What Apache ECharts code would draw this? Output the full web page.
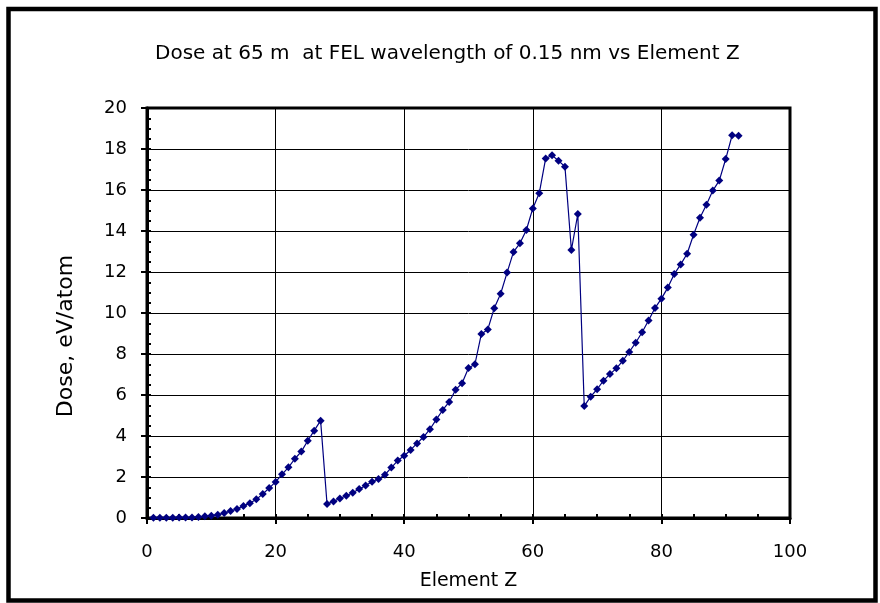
<!DOCTYPE html>
<html>
<head>
<meta charset="utf-8">
<script src="https://cdn.jsdelivr.net/npm/echarts@6/dist/echarts.min.js"></script>
<style>
html,body{margin:0;padding:0;background:#fff;}
#chart{width:880px;height:603px;}
</style>
</head>
<body>
<div id="chart"></div>
<script>
var titleText = 'Dose at 65 m  at FEL wavelength of 0.15 nm vs Element Z';
var xName = 'Element Z';
var yName = 'Dose, eV/atom';
var elementZ = [1,2,3,4,5,6,7,8,9,10,11,12,13,14,15,16,17,18,19,20,21,22,23,24,25,26,27,28,29,30,31,32,33,34,35,36,37,38,39,40,41,42,43,44,45,46,47,48,49,50,51,52,53,54,55,56,57,58,59,60,61,62,63,64,65,66,67,68,69,70,71,72,73,74,75,76,77,78,79,80,81,82,83,84,85,86,87,88,89,90,91,92];
var dose = [0.01,0.01,0.01,0.01,0.02,0.02,0.03,0.05,0.08,0.11,0.16,0.24,0.34,0.44,0.59,0.72,0.91,1.17,1.46,1.76,2.13,2.47,2.89,3.24,3.77,4.26,4.75,0.68,0.81,0.95,1.09,1.23,1.41,1.58,1.77,1.90,2.11,2.46,2.80,3.04,3.32,3.64,3.95,4.33,4.81,5.27,5.66,6.26,6.57,7.32,7.50,8.98,9.20,10.23,10.94,11.97,12.98,13.40,14.05,15.10,15.84,17.54,17.69,17.43,17.14,13.07,14.83,5.46,5.92,6.28,6.70,7.02,7.30,7.67,8.10,8.55,9.06,9.63,10.24,10.70,11.24,11.90,12.37,12.89,13.82,14.65,15.28,15.97,16.46,17.51,18.67,18.65];

var pairs = elementZ.map(function (z, i) { return [z, dose[i]]; });
var FONT = 'DejaVu Sans';

var chart = echarts.init(document.getElementById('chart'), null, {renderer: 'canvas'});
chart.setOption({
  backgroundColor: '#ffffff',
  animation: false,
  title: {
    text: titleText,
    left: 150,
    top: 39,
    textStyle: {fontFamily: FONT, fontSize: 20, fontWeight: 'normal', color: '#000'}
  },
  graphic: [{
    type: 'rect',
    shape: {x: 8.5, y: 9, width: 867, height: 591.5},
    style: {fill: null, stroke: '#000', lineWidth: 4.5},
    silent: true
  }],
  grid: {
    left: 147, right: 90, top: 108, bottom: 85,
    show: true, borderColor: '#000', borderWidth: 3, backgroundColor: 'transparent'
  },
  xAxis: [{
    type: 'value', min: 0, max: 100, interval: 20,
    name: xName, nameLocation: 'middle', nameGap: 54,
    nameTextStyle: {fontFamily: FONT, fontSize: 19, color: '#000'},
    axisLine: {show: true, onZero: false, lineStyle: {color: '#000', width: 3}},
    axisTick: {show: true, length: 6, lineStyle: {color: '#000', width: 2}},
    axisLabel: {margin: 25, fontFamily: FONT, fontSize: 18, color: '#000'},
    splitLine: {show: true, lineStyle: {color: '#000', width: 1}}
  }, {
    type: 'value', min: 0, max: 100, interval: 20, position: 'bottom',
    axisLine: {show: false},
    axisTick: {show: true, inside: true, length: 4, lineStyle: {color: '#000', width: 2}},
    minorTick: {show: true, splitNumber: 4, length: 4, lineStyle: {color: '#000', width: 2}},
    axisLabel: {show: false},
    splitLine: {show: false}
  }],
  yAxis: [{
    type: 'value', min: 0, max: 20, interval: 2,
    name: yName, nameLocation: 'middle', nameGap: 70,
    nameTextStyle: {fontFamily: FONT, fontSize: 22, color: '#000', padding: [0, 46, 0, 0]},
    axisLine: {show: true, onZero: false, lineStyle: {color: '#000', width: 3}},
    axisTick: {show: true, length: 6, lineStyle: {color: '#000', width: 2}},
    axisLabel: {margin: 20, fontFamily: FONT, fontSize: 18, color: '#000'},
    splitLine: {show: true, lineStyle: {color: '#000', width: 1}}
  }, {
    type: 'value', min: 0, max: 20, interval: 2, position: 'left',
    axisLine: {show: false},
    axisTick: {show: true, inside: true, length: 4, lineStyle: {color: '#000', width: 2}},
    minorTick: {show: true, splitNumber: 4, length: 4, lineStyle: {color: '#000', width: 2}},
    axisLabel: {show: false},
    splitLine: {show: false}
  }],
  series: [{
    type: 'line',
    xAxisIndex: 0, yAxisIndex: 0,
    data: pairs,
    symbol: 'diamond',
    symbolSize: 8,
    showSymbol: true,
    lineStyle: {color: '#000080', width: 1.2},
    itemStyle: {color: '#000080'},
    emphasis: {disabled: true}
  }]
});
</script>
</body>
</html>
